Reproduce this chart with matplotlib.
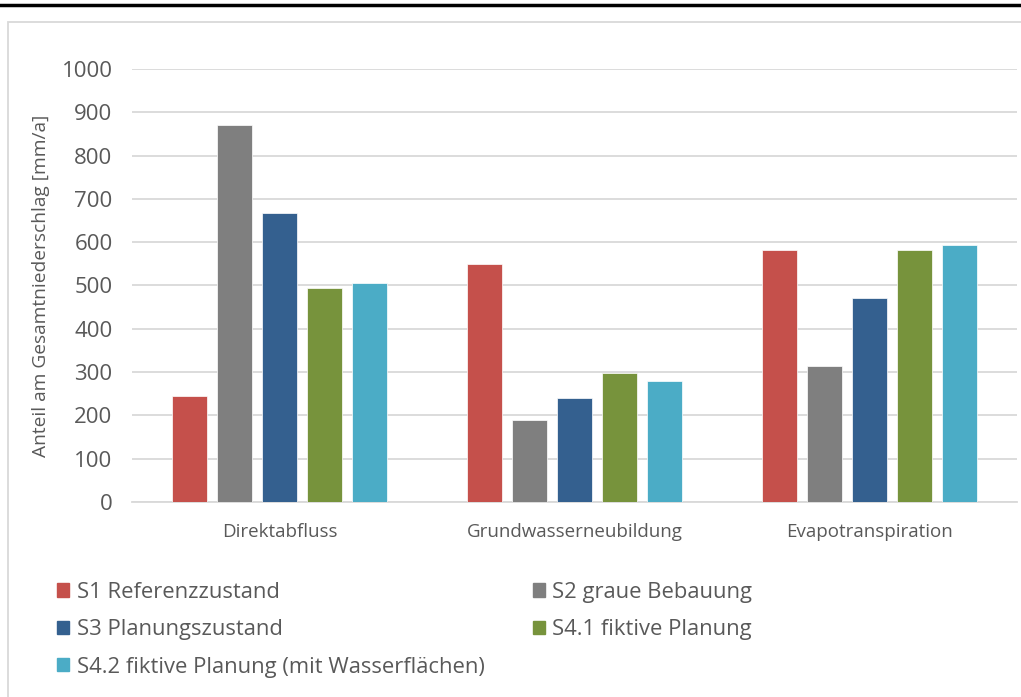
import numpy as np
import matplotlib
matplotlib.use('Agg')
import matplotlib.pyplot as plt
from matplotlib.patches import Rectangle
from matplotlib.lines import Line2D

plt.rcParams['font.family'] = ['Open Sans', 'DejaVu Sans']

categories = ['Direktabfluss', 'Grundwasserneubildung', 'Evapotranspiration']
series = ['S1 Referenzzustand', 'S2 graue Bebauung', 'S3 Planungszustand',
          'S4.1 fiktive Planung', 'S4.2 fiktive Planung (mit Wasserflächen)']
s1 = [245, 550, 582]
s2 = [870, 190, 315]
s3 = [668, 240, 470]
s4_1 = [494, 299, 582]
s4_2 = [505, 280, 594]
values = [s1, s2, s3, s4_1, s4_2]
colors = ['#C5504B', '#7F7F7F', '#34608F', '#77933C', '#4BACC6']

text_col = '#595959'
grid_col = '#D9D9D9'

fig = plt.figure(figsize=(10.21, 6.97), dpi=100)
ax = fig.add_axes([132 / 1021, 0.2798, 885 / 1021, 0.6212])

x = np.arange(len(categories))
step = 0.1525
width = 0.119
for i, (vals, c) in enumerate(zip(values, colors)):
    ax.bar(x + (i - 2) * step, vals, width, color=c, edgecolor='white',
           linewidth=0.5, zorder=3, label=series[i])

ax.set_xlim(-0.5, 2.5)
ax.set_ylim(0, 1000)
ax.set_yticks(np.arange(0, 1001, 100))
ax.set_xticks(x)
ax.set_xticklabels(categories, fontsize=13.5, color=text_col)
ax.tick_params(axis='y', labelsize=16, colors=text_col, length=0, pad=14)
ax.tick_params(axis='x', length=0, pad=15)
ax.grid(axis='y', color=grid_col, linewidth=1.3, zorder=0)
for s in ['top', 'right', 'left']:
    ax.spines[s].set_visible(False)
ax.spines['bottom'].set_color(grid_col)
ax.spines['bottom'].set_linewidth(1.3)
ax.set_ylabel('Anteil am Gesamtniederschlag [mm/a]', fontsize=13.8, color=text_col, labelpad=8)

# legend filled row-wise like the original
order = [0, 2, 4, 1, 3]
handles = [Rectangle((0, 0), 1, 1, color=colors[k]) for k in order]
labels = [series[k] for k in order]
leg = fig.legend(handles, labels, ncol=2, loc='upper left', bbox_to_anchor=(0.047, 0.178),
                 frameon=False, fontsize=15.8, handlelength=0.55, handleheight=0.55,
                 handletextpad=0.35, columnspacing=2.2, labelspacing=0.75,
                 borderaxespad=0)
for t in leg.get_texts():
    t.set_color(text_col)

# chart frame (left and top visible) and top rule
fig.patches.append(Rectangle((8 / 1021, -0.01), 1.1, 1 - 22 / 697 + 0.01,
                             transform=fig.transFigure, fill=False,
                             edgecolor=grid_col, linewidth=1.3))
fig.lines.append(Line2D([0, 1], [1 - 5 / 697, 1 - 5 / 697], transform=fig.transFigure,
                        color='black', linewidth=2.5))

fig.savefig('out.png', dpi=100, facecolor='white')
